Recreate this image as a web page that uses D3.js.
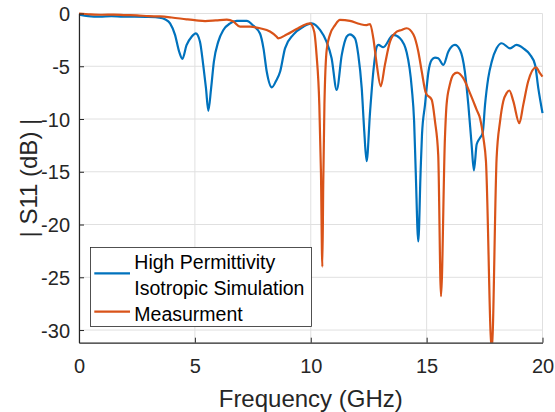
<!DOCTYPE html>
<html>
<head>
<meta charset="utf-8">
<script src="https://cdn.jsdelivr.net/npm/d3@7"></script>
<style>
  html, body { margin: 0; padding: 0; background: #fff; }
  svg { display: block; font-family: "Liberation Sans", Arial, Helvetica, sans-serif; }
</style>
</head>
<body>
<svg id="chart" width="555" height="412"></svg>
<script>
// ---- Data ----
const freqSim = [0,0.4,0.9,1.4,1.9,2.4,2.9,3.3,3.6,3.71,3.93,4.14,4.32,4.46,4.64,4.86,5.04,5.22,5.36,5.48,5.58,5.70,5.82,6.01,6.23,6.52,6.81,7.24,7.52,7.81,7.96,8.10,8.32,8.50,8.68,8.89,9.25,9.68,10.04,10.40,10.68,10.90,11.12,11.34,11.55,11.69,11.91,12.05,12.20,12.31,12.41,12.56,12.70,12.85,12.92,13.13,13.56,13.85,14.14,14.36,14.46,14.53,14.64,14.74,14.80,14.93,15.08,15.22,15.36,15.50,15.72,15.94,16.22,16.44,16.65,16.80,16.94,17.04,17.16,17.30,17.42,17.52,17.66,17.81,18.02,18.24,18.60,18.88,19.17,19.46,19.68,19.82,20.0];
const s11Sim  = [-0.1,-0.25,-0.3,-0.25,-0.3,-0.3,-0.32,-0.35,-0.45,-0.55,-0.93,-2.0,-3.6,-4.3,-3.0,-2.2,-1.88,-2.67,-4.87,-7.1,-9.22,-7.1,-4.56,-2.67,-1.56,-0.93,-0.7,-0.7,-1.15,-1.9,-3.3,-5.5,-7.0,-6.4,-5.5,-3.3,-2.0,-1.25,-0.93,-1.56,-2.67,-4.24,-7.24,-3.9,-2.2,-1.97,-2.35,-3.9,-7.1,-11.2,-14.0,-9.3,-5.5,-3.14,-2.98,-3.2,-2.03,-2.35,-3.7,-7.1,-10.2,-15,-21.6,-15,-11.5,-8.66,-5.5,-4.4,-4.18,-4.24,-4.87,-3.6,-2.98,-3.45,-5.5,-8.66,-12.4,-14.87,-12.4,-11.8,-11.3,-8.66,-6.1,-4.56,-3.3,-2.82,-3.3,-2.98,-3.3,-3.9,-4.87,-7.1,-9.44];

const freqMeas = [0,0.5,1.0,1.5,2.0,2.5,3.0,3.5,4.0,4.64,5.06,5.44,5.9,6.38,6.66,6.95,7.38,7.81,8.24,8.53,8.59,8.96,9.39,9.82,9.97,10.15,10.25,10.37,10.44,10.50,10.54,10.59,10.69,10.83,11.05,11.26,11.69,12.12,12.41,12.56,12.70,12.85,13.02,13.20,13.42,13.71,13.92,14.14,14.43,14.64,14.79,14.97,15.22,15.36,15.50,15.62,15.79,15.86,16.00,16.15,16.32,16.58,16.87,17.16,17.30,17.45,17.56,17.81,18.02,18.17,18.31,18.45,18.57,18.74,19.00,19.17,19.38,19.72,19.89,20.0];
const s11Meas  = [0,-0.08,-0.12,-0.1,-0.15,-0.18,-0.25,-0.28,-0.38,-0.55,-0.65,-0.72,-0.66,-0.58,-0.75,-1.25,-1.25,-1.4,-1.7,-2.2,-2.35,-2.0,-1.47,-1.0,-0.93,-1.72,-3.9,-8.66,-15,-24.0,-16,-8.66,-3.4,-2.0,-1.1,-0.61,-0.7,-1.0,-1.1,-1.0,-2.35,-4.87,-6.9,-4.87,-2.67,-1.72,-1.56,-1.4,-2.0,-3.6,-5.5,-7.55,-8.18,-10.2,-13.4,-26.8,-11.8,-8.66,-6.76,-5.8,-5.6,-6.13,-7.55,-9.13,-9.9,-11.8,-14.0,-32,-13.7,-10.2,-8.3,-7.55,-7.3,-8.3,-10.4,-8.66,-6.45,-5.1,-5.66,-5.98];

const xTicks = [0, 5, 10, 15, 20];
const yTicks = [0, -5, -10, -15, -20, -25, -30];
const seriesNames = ["High Permittivity", "Isotropic Simulation", "Measurment"];

// ---- Layout ----
const svg = d3.select("#chart");
const L = 79, R = 542.5, T = 13.5, B = 342.7;
const x = d3.scaleLinear().domain([0, 20]).range([L, R]);
const y = d3.scaleLinear().domain([-31.2, 0]).range([B, T]);

const axisColor = "#262626";
const gridColor = "#e0e0e0";
const blue = "#0072BD", orange = "#D95319";

// grid
const grid = svg.append("g");
grid.selectAll("line.gx").data(xTicks).join("line")
  .attr("x1", d => x(d)).attr("x2", d => x(d))
  .attr("y1", T).attr("y2", B)
  .attr("stroke", gridColor).attr("stroke-width", 1);
grid.selectAll("line.gy").data(yTicks).join("line")
  .attr("x1", L).attr("x2", R)
  .attr("y1", d => y(d)).attr("y2", d => y(d))
  .attr("stroke", gridColor).attr("stroke-width", 1);

// clip
svg.append("clipPath").attr("id", "clip")
  .append("rect").attr("x", L).attr("y", T - 2).attr("width", R - L + 2).attr("height", B - T + 2);

const line = d3.line().x(d => x(d[0])).y(d => y(d[1])).curve(d3.curveMonotoneX);
const simData = freqSim.map((f, i) => [f, s11Sim[i]]);
const measData = freqMeas.map((f, i) => [f, s11Meas[i]]);

const plot = svg.append("g").attr("clip-path", "url(#clip)");
plot.append("path").datum(simData).attr("d", line)
  .attr("fill", "none").attr("stroke", blue).attr("stroke-width", 2.2).attr("stroke-linejoin", "round");
plot.append("path").datum(measData).attr("d", line)
  .attr("fill", "none").attr("stroke", orange).attr("stroke-width", 2.2).attr("stroke-linejoin", "round");

// axes
const xAxis = d3.axisBottom(x).tickValues(xTicks).tickSizeInner(-5).tickSizeOuter(0).tickPadding(12).tickFormat(d3.format("d"));
const gx = svg.append("g").attr("transform", `translate(0,${B})`).call(xAxis);
const yAxis = d3.axisLeft(y).tickValues(yTicks).tickSizeInner(-5).tickSizeOuter(0).tickPadding(9).tickFormat(d => String(d));
const gy = svg.append("g").attr("transform", `translate(${L},0)`).call(yAxis);

[gx, gy].forEach(g => {
  g.select(".domain").attr("stroke", axisColor).attr("stroke-width", 1.2);
  g.selectAll(".tick line").attr("stroke", axisColor).attr("stroke-width", 1);
  g.selectAll(".tick text").attr("fill", axisColor).style("font-size", "20px")
    .style("font-family", '"Liberation Sans", Arial, sans-serif');
});
gx.selectAll(".tick text").attr("dy", "0.9em");
gy.selectAll(".tick text").attr("dy", "0.36em");

// axis labels
svg.append("text").attr("x", (L + R) / 2).attr("y", 406.5)
  .attr("text-anchor", "middle").attr("fill", axisColor).style("font-size", "24px")
  .text("Frequency (GHz)");
svg.append("text").attr("transform", `translate(36.5,${(T + B) / 2}) rotate(-90)`)
  .attr("text-anchor", "middle").attr("fill", axisColor).style("font-size", "24px")
  .attr("xml:space", "preserve").style("white-space", "pre")
  .text("| S11 (dB) |");

// legend
const lg = svg.append("g");
lg.append("rect").attr("x", 90.5).attr("y", 247.5).attr("width", 221).attr("height", 79)
  .attr("fill", "#fff").attr("stroke", "#262626").attr("stroke-width", 0.8);
lg.append("line").attr("x1", 94.3).attr("x2", 130).attr("y1", 273.3).attr("y2", 273.3)
  .attr("stroke", blue).attr("stroke-width", 2.2);
lg.append("line").attr("x1", 94.3).attr("x2", 130).attr("y1", 311.7).attr("y2", 311.7)
  .attr("stroke", orange).attr("stroke-width", 2.2);
const legendBaselines = [269, 295, 321];
lg.selectAll("text.lt").data(seriesNames).join("text")
  .attr("x", 134.3).attr("y", (d, i) => legendBaselines[i])
  .attr("fill", "#000").style("font-size", "19.5px").text(d => d);
</script>
</body>
</html>
